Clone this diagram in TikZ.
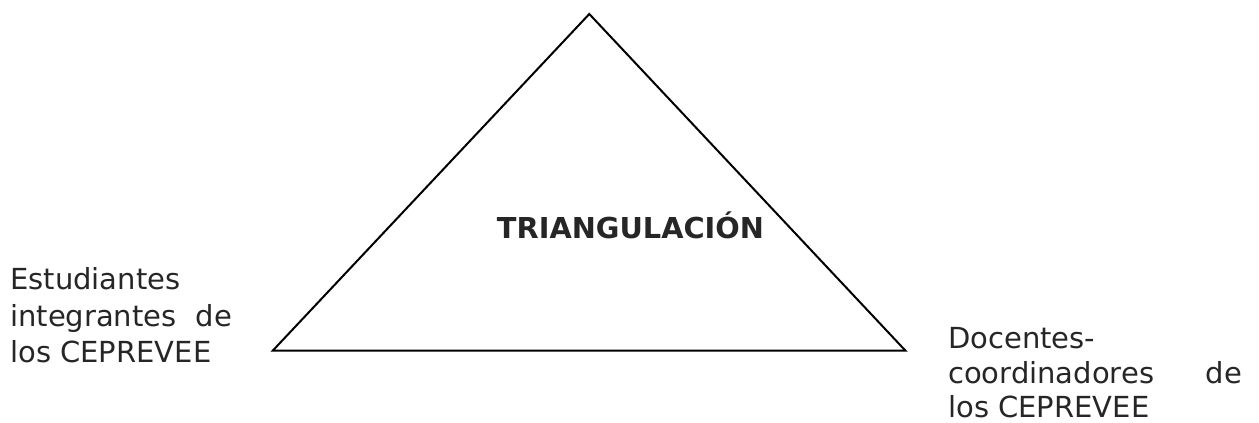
\documentclass[tikz,border=0pt]{standalone}
\usepackage{fontspec}
\setmainfont{DejaVu Sans}
\begin{document}
\begin{tikzpicture}[x=1pt,y=-1pt,
  lbl/.style={anchor=base west,inner sep=0pt,font=\fontsize{29}{35}\selectfont,text=black!85},
  tri/.style={draw=black,line width=2pt,line join=miter}]
\useasboundingbox (0,0) rectangle (1259,423);
\coordinate (apex) at (589.3,14);
\coordinate (bl) at (272.7,350.7);
\coordinate (br) at (905.5,350.7);
\draw[tri] (apex) -- (bl) -- (br) -- cycle;
\node[anchor=base,inner sep=0pt,font=\fontsize{28.8}{34}\selectfont\bfseries,text=black!85] (title) at (630.5,238) {TRIANGULACIÓN};
\node[lbl] (e1) at (10,289) {Estudiantes};
\node[lbl,text width=222pt] (e2) at (10,326) {integrantes\hfill de};
\node[lbl] (e3) at (10,362) {los CEPREVEE};
\node[lbl] (d1) at (948,348) {Docentes-};
\node[lbl,text width=294pt] (d2) at (948,383) {coordinadores\hfill de};
\node[lbl] (d3) at (948,417) {los CEPREVEE};
\end{tikzpicture}
\end{document}
